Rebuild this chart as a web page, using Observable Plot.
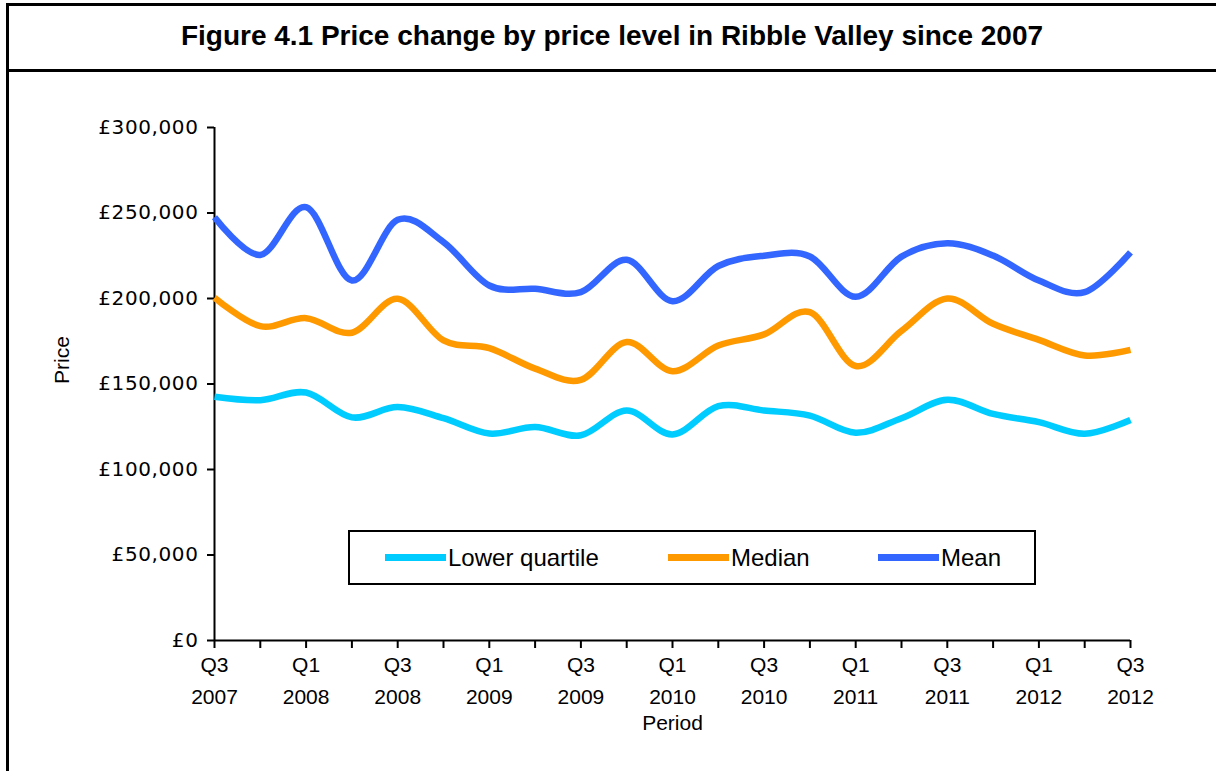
<!DOCTYPE html>
<html>
<head>
<meta charset="utf-8">
<script src="https://cdn.jsdelivr.net/npm/d3@7"></script>
<script src="https://cdn.jsdelivr.net/npm/@observablehq/plot@0.6"></script>
<style>
  html, body { margin: 0; padding: 0; background: #fff; }
  #wrap { position: relative; width: 1216px; height: 771px; overflow: hidden; font-family: "Liberation Sans", Arial, sans-serif; color: #000; }
  .hline { position: absolute; left: 7px; right: 0; height: 3px; background: #000; }
  .vline { position: absolute; left: 6px; top: 3px; bottom: 0; width: 3px; background: #000; }
  #title { position: absolute; left: 8px; right: 0; top: 20px; text-align: center; font-weight: bold; font-size: 28px; }
  #chart { position: absolute; left: 0; top: 80px; }
  #chart g[aria-label="y-axis tick label"] text { font-family: "DejaVu Sans", sans-serif; letter-spacing: 0.6px; }
  #legend { position: absolute; left: 348px; top: 530px; width: 684px; height: 51px; border: 2px solid #000; background: #fff; }
  .item { position: absolute; top: 0; height: 51px; display: flex; align-items: center; font-size: 24px; }
  .sw { width: 61px; height: 7px; margin-right: 2px; }
</style>
</head>
<body>
<div id="wrap">
  <div class="hline" style="top:3px"></div>
  <div class="hline" style="top:69px"></div>
  <div class="vline"></div>
  <div id="title">Figure 4.1 Price change by price level in Ribble Valley since 2007</div>
  <div id="chart"></div>
  <div id="legend"></div>
</div>
<script>
// Quarters Q3 2007 .. Q3 2012
const periods = ["Q3 2007","Q4 2007","Q1 2008","Q2 2008","Q3 2008","Q4 2008","Q1 2009","Q2 2009","Q3 2009","Q4 2009","Q1 2010","Q2 2010","Q3 2010","Q4 2010","Q1 2011","Q2 2011","Q3 2011","Q4 2011","Q1 2012","Q2 2012","Q3 2012"];
const lowerQuartile = [142500,140500,145000,130500,136500,130000,121000,124800,120000,134500,120500,137000,134500,131500,121500,130000,140800,132500,127700,120900,129000];
const median = [200500,183800,188500,180000,199800,175500,171000,159000,152400,174500,157500,172500,179000,192000,160500,181000,200000,185200,175800,166700,170000];
const mean = [247500,225500,253400,210500,246000,233000,207600,205700,203700,222600,198400,219000,225000,224600,201000,224500,232300,225100,210500,203700,227000];

const seriesNames = ["Lower quartile","Median","Mean"];
const seriesColors = ["#00CCFF","#FF9900","#3366FF"];
const yTicks = [0,50000,100000,150000,200000,250000,300000];
const tickQuarter = ["Q3","Q1","Q3","Q1","Q3","Q1","Q3","Q1","Q3","Q1","Q3"];
const tickYear = ["2007","2008","2008","2009","2009","2010","2010","2011","2011","2012","2012"];

const seriesValues = [lowerQuartile, median, mean];
const rows = [];
seriesNames.forEach((s, k) => seriesValues[k].forEach((v, i) => rows.push({series: s, i, period: periods[i], value: v})));
const idx = periods.map((_, i) => i);
const labelRows = tickQuarter.map((q, j) => ({i: j * 2, q, yr: tickYear[j]}));

const chart = Plot.plot({
  width: 1216,
  height: 680,
  marginLeft: 214,
  marginRight: 86,
  marginTop: 47,
  marginBottom: 120,
  style: {fontFamily: '"Liberation Sans", Arial, sans-serif', fontSize: "20px", color: "#000", background: "transparent", overflow: "visible"},
  x: {domain: [0, 20], axis: null},
  y: {domain: [0, 300000], axis: null},
  color: {domain: seriesNames, range: seriesColors},
  marks: [
    Plot.axisY({ticks: yTicks, tickFormat: d => "£" + d3.format(",")(d), tickSize: 7, tickPadding: 9, strokeWidth: 2, fontSize: 20, label: null}),
    Plot.axisX({ticks: idx, tickFormat: () => "", tickSize: 8, strokeWidth: 2, label: null}),
    Plot.ruleX([0], {strokeWidth: 2}),
    Plot.ruleY([0], {strokeWidth: 2}),
    Plot.text(labelRows, {x: "i", y: 0, text: "q", dy: 25, fontSize: 21}),
    Plot.text(labelRows, {x: "i", y: 0, text: "yr", dy: 57, fontSize: 21}),
    Plot.text(["Period"], {frameAnchor: "bottom", dy: 89, fontSize: 21}),
    Plot.text(["Price"], {frameAnchor: "left", rotate: -90, dx: -152, fontSize: 21}),
    Plot.line(rows, {x: "i", y: "value", z: "series", stroke: "series", strokeWidth: 6.5, curve: "cardinal", strokeLinecap: "butt", strokeLinejoin: "round"})
  ]
});
document.getElementById("chart").appendChild(chart);

const legend = document.getElementById("legend");
const lefts = [35, 318, 528];
seriesNames.forEach((s, k) => {
  const it = document.createElement("div");
  it.className = "item";
  it.style.left = lefts[k] + "px";
  const sw = document.createElement("span");
  sw.className = "sw";
  sw.style.background = seriesColors[k];
  const tx = document.createElement("span");
  tx.textContent = s;
  it.appendChild(sw);
  it.appendChild(tx);
  legend.appendChild(it);
});
</script>
</body>
</html>
